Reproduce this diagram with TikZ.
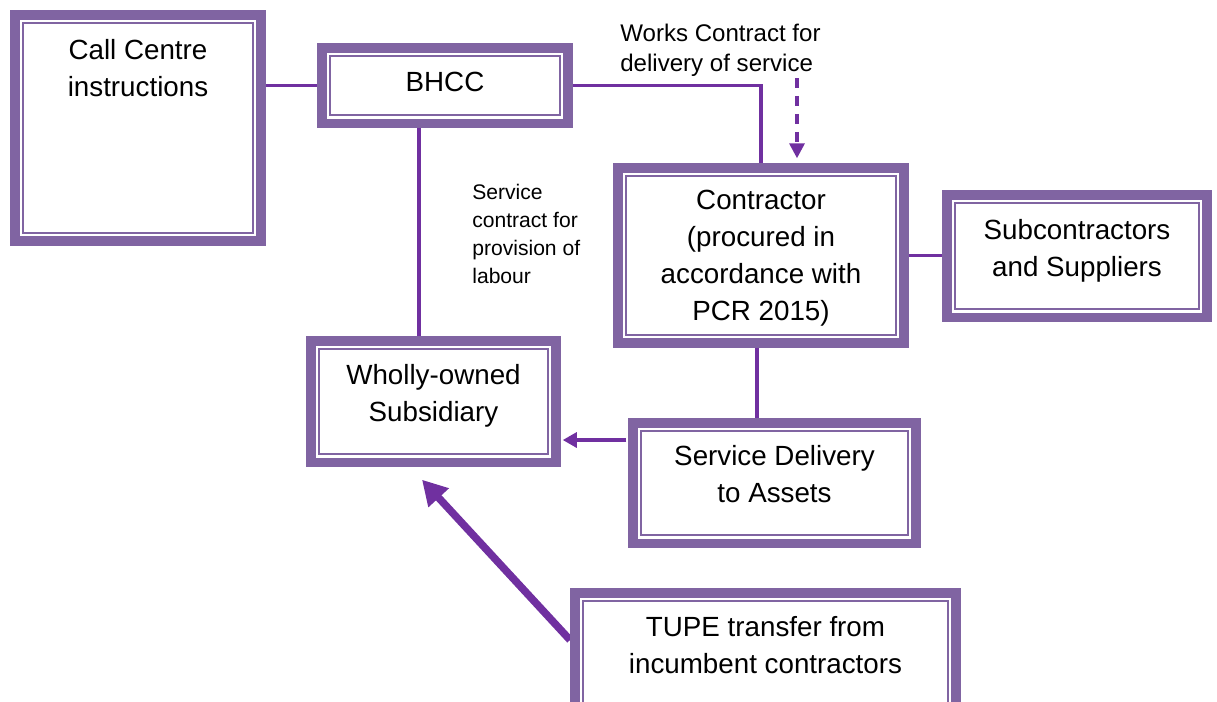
\documentclass[tikz,border=0pt]{standalone}
\usepackage{fontspec}
\setmainfont{Liberation Sans}
\usetikzlibrary{arrows.meta,backgrounds}

\definecolor{boxpurple}{RGB}{128,100,162}
\definecolor{linkpurple}{RGB}{112,48,160}

\tikzset{
  box/.style={draw=boxpurple, line width=5.4pt, fill=white, inner sep=0pt,
    align=center, font=\fontsize{15.8pt}{21pt}\selectfont,
    path picture={\draw[boxpurple, line width=1.3pt]
      ([shift={(0.16cm,0.16cm)}]path picture bounding box.south west) rectangle
      ([shift={(-0.16cm,-0.16cm)}]path picture bounding box.north east);}},
  link/.style={draw=linkpurple, line width=1.9pt},
  note/.style={inner sep=0pt, align=left, anchor=north west}
}

\begin{document}
\begin{tikzpicture}[x=0.02cm, y=-0.02cm]
\useasboundingbox (0,0) rectangle (1217,701);
% boxes
\node[box, minimum width=4.93cm, minimum height=4.53cm, text depth=68.3pt] (callc) at (138,128) {Call Centre\\instructions};
\node[box, minimum width=4.93cm, minimum height=1.51cm, text depth=4.6pt] (bhcc) at (445,85.5) {BHCC};
\node[box, minimum width=5.73cm, minimum height=3.51cm, text depth=0pt] (contr) at (761,255.5) {Contractor\\(procured in\\accordance with\\PCR 2015)};
\node[box, minimum width=5.21cm, minimum height=2.45cm, text depth=9.1pt] (subs) at (1077,256) {Subcontractors\\and Suppliers};
\node[box, minimum width=4.91cm, minimum height=2.43cm, text depth=9.7pt] (wos) at (433.5,401.5) {Wholly-owned\\Subsidiary};
\node[box, minimum width=5.67cm, minimum height=2.41cm, text depth=10.2pt] (sdel) at (774.5,483) {Service Delivery\\to Assets};
\node[box, minimum width=7.63cm, minimum height=2.65cm, text depth=15.9pt] (tupe) at (765.5,659) {TUPE transfer from\\incumbent contractors};

% labels
\node[note, font=\fontsize{13.7pt}{17pt}\selectfont] (works) at (620,24) {Works Contract for\\delivery of service};
\node[note, font=\fontsize{12pt}{16pt}\selectfont] (labour) at (472,184) {Service\\contract for\\provision of\\labour};

% plain links, behind the boxes
\begin{scope}[on background layer]
\draw[link] (bhcc.west -| callc.east) -- (bhcc.west);
\draw[link] (bhcc.east) -| (contr.north);
\coordinate (bhccS) at ([xshift=-0.52cm]bhcc.south);
\draw[link] (bhccS) -- (bhccS |- wos.north);
\draw[link] (contr.east) -- (contr.east -| subs.west);
\coordinate (contrS) at ([xshift=-0.08cm]contr.south);
\draw[link] (contrS) -- (contrS |- sdel.north);
\coordinate (tupeW) at ([yshift=0.38cm]tupe.west);
\coordinate (wosS) at ([xshift=-0.23cm,yshift=-0.255cm]wos.south);
\draw[draw=linkpurple, line width=4.3pt, -{Triangle[length=14pt,width=15pt]}] (tupeW) -- (wosS);
\end{scope}

% arrows
\coordinate (worksC) at (797,78);
\draw[link, dash pattern=on 5.7pt off 4.5pt, -{Triangle[length=8.5pt,width=8.5pt]}, shorten >=2.7pt] (worksC) -- (worksC |- contr.north);
\coordinate (sdelW) at ([yshift=0.86cm]sdel.west);
\draw[link, -{Triangle[length=8pt,width=8.5pt]}, shorten <=1pt, shorten >=1pt] (sdelW) -- (sdelW -| wos.east);
\end{tikzpicture}
\end{document}
